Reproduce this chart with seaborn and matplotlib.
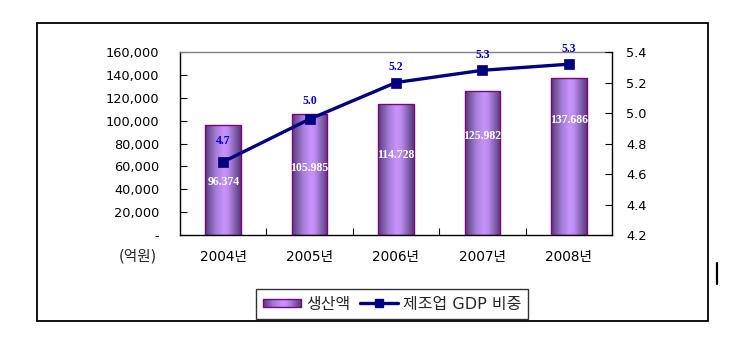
import numpy as np
import pandas as pd
import matplotlib
matplotlib.use("Agg")
import matplotlib.pyplot as plt
import seaborn as sns
from matplotlib.colors import LinearSegmentedColormap
from matplotlib.lines import Line2D
from matplotlib.patches import Rectangle
from matplotlib.legend_handler import HandlerBase
from matplotlib.ticker import FixedLocator, FuncFormatter, MultipleLocator

years = ["2004년", "2005년", "2006년", "2007년", "2008년"]
production = [96374, 105985, 114728, 125982, 137686]   # 생산액 (억원)
gdp_share = [4.68, 4.96, 5.20, 5.28, 5.32]             # 제조업 GDP 비중 (%)

# layout: heights of the value labels inside the bars, offsets of the share labels
bar_label_y = [46600, 58300, 69900, 86800, 100500]
share_label_dy = [11.0, 9.0, 7.0, 7.0, 6.5]

BAR_EDGE = "#800080"
LINE_COLOR = "#000080"
bar_cmap = LinearSegmentedColormap.from_list(
    "bar", [(0.0, "#553a78"), (0.3, "#a47cd6"), (0.52, "#c894fc"),
            (0.64, "#bd8cf0"), (1.0, "#553a78")])

sns.set_theme(style="white")
plt.rcParams["font.family"] = ["DejaVu Sans", "Noto Sans CJK KR"]
plt.rcParams["axes.unicode_minus"] = False

df = pd.DataFrame({"year": years, "production": production})

fig = plt.figure(figsize=(7.41, 3.41), dpi=100)
ax = fig.add_axes([180 / 741, 1 - 235 / 341, 432 / 741, 183 / 341])

sns.barplot(data=df, x="year", y="production", ax=ax, width=0.41,
            color="#cc99ff", saturation=1, edgecolor=BAR_EDGE, linewidth=1.0,
            zorder=3)

# horizontal gradient fill clipped to every bar
grad = np.linspace(0, 1, 256).reshape(1, -1)
for patch in ax.patches:
    x0, y0 = patch.get_x(), patch.get_y()
    w, h = patch.get_width(), patch.get_height()
    im = ax.imshow(grad, cmap=bar_cmap, extent=[x0, x0 + w, y0, y0 + h],
                   aspect="auto", zorder=2, interpolation="bilinear")
    im.set_clip_path(patch)
    patch.set_facecolor("none")

ax.set_xlim(-0.5, 4.5)
ax.set_ylim(0, 160000)
ax.yaxis.set_major_locator(MultipleLocator(20000))
ax.yaxis.set_major_formatter(FuncFormatter(lambda v, p: "-" if v == 0 else f"{v:,.0f}"))
ax.set_xlabel("")
ax.set_ylabel("")

for i, (v, ly) in enumerate(zip(production, bar_label_y)):
    ax.text(i, ly, f"{v:,}".replace(",", "."), ha="center", va="center",
            color="white", fontsize=8.5, fontweight="bold",
            family="Liberation Serif", zorder=5)

# x axis: tick marks between categories, labels at the centres
ax.xaxis.set_minor_locator(FixedLocator([0.5, 1.5, 2.5, 3.5]))
ax.tick_params(axis="x", which="major", length=0, pad=11, labelsize=9.8, colors="black")
ax.tick_params(axis="x", which="minor", direction="in", length=5, width=0.8,
               color="black", bottom=True)
ax.tick_params(axis="y", direction="in", length=5, width=0.8, pad=15,
               labelsize=9.3, left=True, colors="black")

for side in ("left", "bottom"):
    ax.spines[side].set_color("black")
    ax.spines[side].set_linewidth(1.0)
ax.spines["top"].set_color("#808080")
ax.spines["top"].set_linewidth(1.0)
ax.spines["right"].set_visible(False)

ax2 = ax.twinx()
sns.lineplot(x=np.arange(len(gdp_share)), y=gdp_share, ax=ax2, color=LINE_COLOR,
             linewidth=2.4, marker="s", markersize=7, markeredgecolor=LINE_COLOR,
             markeredgewidth=0.5, zorder=4)
ax2.set_ylim(4.2, 5.4)
ax2.set_xlim(-0.5, 4.5)
ax2.yaxis.set_major_locator(MultipleLocator(0.2))
ax2.yaxis.set_major_formatter(FuncFormatter(lambda v, p: f"{v:.1f}"))
ax2.tick_params(axis="y", direction="in", length=5, width=0.8, pad=10,
                labelsize=9.3, right=True, colors="black")
ax2.spines["right"].set_color("black")
ax2.spines["right"].set_linewidth(1.0)
for side in ("left", "top", "bottom"):
    ax2.spines[side].set_visible(False)
ax2.grid(False)
ax.grid(False)

for i, (v, dy) in enumerate(zip(gdp_share, share_label_dy)):
    ax2.annotate(f"{v:.1f}", (i, v), xytext=(0, dy), textcoords="offset points",
                 ha="center", va="bottom", color="#0000cc", fontsize=8.5,
                 fontweight="bold", family="Liberation Serif")

fig.text(138 / 741, 1 - 256 / 341, "(억원)", ha="center", va="center", fontsize=10.5)


class GradientSwatch(HandlerBase):
    def create_artists(self, legend, orig_handle, xdescent, ydescent,
                       width, height, fontsize, trans):
        artists = []
        n = 24
        hh = 8 * 0.72
        yb = -ydescent + (height - hh) / 2
        for k in range(n):
            r = Rectangle((-xdescent + width * k / n, yb), width / n + 0.3, hh,
                          facecolor=bar_cmap((k + 0.5) / n), edgecolor="none",
                          transform=trans)
            artists.append(r)
        artists.append(Rectangle((-xdescent, yb), width, hh, facecolor="none",
                                 edgecolor=BAR_EDGE, linewidth=1.0, transform=trans))
        return artists


bar_handle = Rectangle((0, 0), 1, 1)
line_handle = Line2D([], [], color=LINE_COLOR, linewidth=2.4, marker="s",
                     markersize=6, markeredgecolor=LINE_COLOR)
leg = fig.legend([bar_handle, line_handle], ["생산액", "제조업 GDP 비중"],
                 loc="center", bbox_to_anchor=(392 / 741, 1 - 304 / 341),
                 ncol=2, frameon=True, fancybox=False, fontsize=11.5,
                 handlelength=2.4, handletextpad=0.3, columnspacing=0.6,
                 borderpad=0.45, borderaxespad=0,
                 handler_map={Rectangle: GradientSwatch()})
leg.get_frame().set_edgecolor("black")
leg.get_frame().set_linewidth(1.0)
leg.get_frame().set_boxstyle("square", pad=0)

fig.add_artist(Rectangle((37 / 741, 1 - 321 / 341), 671 / 741, 298 / 341,
                         transform=fig.transFigure, fill=False,
                         edgecolor="black", linewidth=1.3))
fig.add_artist(Line2D([717 / 741, 717 / 741], [1 - 263 / 341, 1 - 284 / 341],
                      transform=fig.transFigure, color="black", linewidth=1.6))

fig.savefig("out.png", dpi=100)
